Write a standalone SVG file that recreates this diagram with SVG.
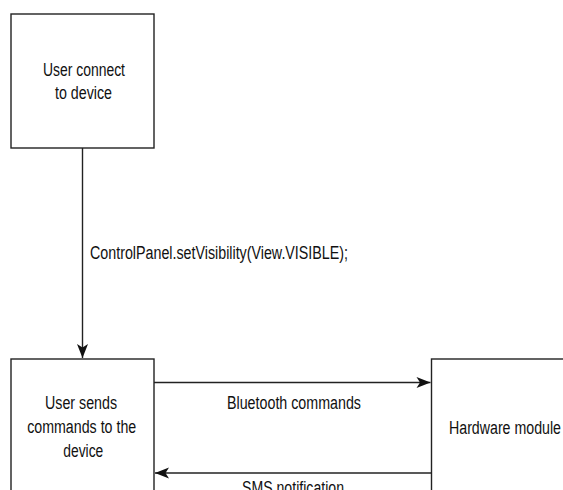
<svg xmlns="http://www.w3.org/2000/svg" width="563" height="490" viewBox="0 0 563 490">
<style>
.box{fill:#fff;stroke:#222;stroke-width:1.4}
.edge{fill:none;stroke:#222;stroke-width:1.4}
text{font-family:"Liberation Sans",Arial,sans-serif;font-size:18px;fill:#111;text-anchor:middle}
</style>
<defs>
<marker id="arr" markerUnits="userSpaceOnUse" markerWidth="16" markerHeight="12" viewBox="-1 -6 16 12" refX="14" refY="0" orient="auto">
<path d="M0,-5.5 L14,0 L0,5.5 L3.5,0 Z" fill="#111"/>
</marker>
</defs>
<rect width="563" height="490" fill="#fff"/>
<g id="node-connect">
<rect class="box" x="11" y="14" width="143" height="134"/>
<text x="84" y="76" textLength="82" lengthAdjust="spacingAndGlyphs">User connect</text>
<text x="83.5" y="99" textLength="57" lengthAdjust="spacingAndGlyphs">to device</text>
</g>
<g id="node-send">
<rect class="box" x="11" y="359" width="143" height="140"/>
<text x="81" y="409" textLength="72" lengthAdjust="spacingAndGlyphs">User sends</text>
<text x="81.7" y="433" textLength="109" lengthAdjust="spacingAndGlyphs">commands to the</text>
<text x="83.3" y="457" textLength="40" lengthAdjust="spacingAndGlyphs">device</text>
</g>
<g id="node-hardware">
<rect class="box" x="431.5" y="359" width="140" height="140"/>
<text x="505" y="434" textLength="112" lengthAdjust="spacingAndGlyphs">Hardware module</text>
</g>
<g id="connectors">
<line class="edge" x1="82.5" y1="148" x2="82.5" y2="358" marker-end="url(#arr)"/>
<text x="219" y="259" textLength="258" lengthAdjust="spacingAndGlyphs">ControlPanel.setVisibility(View.VISIBLE);</text>
<line class="edge" x1="154" y1="382.5" x2="430.5" y2="382.5" marker-end="url(#arr)"/>
<text x="294" y="409" textLength="134" lengthAdjust="spacingAndGlyphs">Bluetooth commands</text>
<line class="edge" x1="431.5" y1="473" x2="155" y2="473" marker-end="url(#arr)"/>
<text x="293" y="494" textLength="102" lengthAdjust="spacingAndGlyphs">SMS notification</text>
</g>
</svg>
